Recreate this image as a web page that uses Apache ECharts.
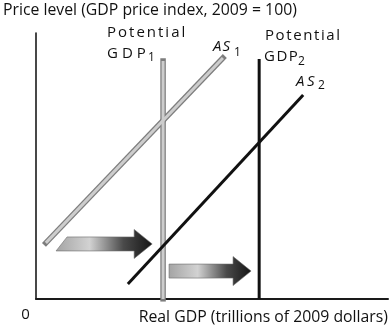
<!DOCTYPE html>
<html>
<head>
<meta charset="utf-8">
<script src="https://cdn.jsdelivr.net/npm/echarts@6/dist/echarts.min.js"></script>
<style>
  html, body { margin: 0; padding: 0; background: #fff; }
  #chart { width: 391px; height: 330px; }
</style>
</head>
<body>
<div id="chart"></div>
<script>
// Aggregate supply shift: potential GDP and AS curves move right.
// Axis units are relative (0–100); the chart carries no tick values.
const potentialGdp1 = [[36.1, 0], [36.1, 89.5]];
const potentialGdp2 = [[63.4, 0], [63.4, 90.2]];
const as1 = [[2.8, 21.1], [53.1, 90.6]];
const as2 = [[26.1, 5.6], [75.9, 76.7]];
// Shift arrows: [start x, tip x, y]
const shiftArrows = [[5.7, 33.0, 20.7], [37.8, 61.1, 10.5]];

const xTitle = 'Real GDP (trillions of 2009 dollars)';
const yTitle = 'Price level (GDP price index, 2009 = 100)';

// ---- styling ----
const FONT = '"Open Sans"';
const arrowTailSlant = [11, 0];

// Spread letters apart with fixed-width gap tokens
function tracked(str) {
  return str.split('').join('{g|\u00a0}');
}

function label(x, y, str, opts) {
  opts = opts || {};
  const gap = opts.gap || 0;
  const size = opts.size || 15;
  const style = {
    text: gap ? tracked(str) : str,
    fill: '#111',
    fontFamily: FONT,
    fontSize: size,
    fontStyle: opts.italic ? 'italic' : 'normal',
    textAlign: opts.align || 'left',
    textVerticalAlign: 'middle'
  };
  if (gap) {
    style.rich = { g: { width: gap, fontSize: size, fontFamily: FONT } };
  }
  return { type: 'text', x: x, y: y, silent: true, style: style };
}

function hollowLine(data, z) {
  return [
    { type: 'line', data: data, showSymbol: false, silent: true, z: z,
      lineStyle: { color: '#7d7d7d', width: 5.5, cap: 'square' } },
    { type: 'line', data: data, showSymbol: false, silent: true, z: z + 0.1,
      lineStyle: { color: '#cdcdcd', width: 3, cap: 'butt' } }
  ];
}

const chart = echarts.init(document.getElementById('chart'), null, { renderer: 'canvas' });

chart.setOption({
  animation: false,
  backgroundColor: '#fff',
  grid: { left: 36, top: 33, right: 3, bottom: 31, containLabel: false },
  xAxis: {
    type: 'value', min: 0, max: 100,
    axisLine: { show: true, onZero: false, lineStyle: { color: '#1a1a1a', width: 2 } },
    axisTick: { show: false }, axisLabel: { show: false }, splitLine: { show: false }
  },
  yAxis: {
    type: 'value', min: 0, max: 100,
    axisLine: { show: true, onZero: false, lineStyle: { color: '#1a1a1a', width: 1.6 } },
    axisTick: { show: false }, axisLabel: { show: false }, splitLine: { show: false }
  },
  series: [
    ...hollowLine(potentialGdp1, 2),
    ...hollowLine(as1, 2),
    { type: 'line', data: potentialGdp2, showSymbol: false, silent: true, z: 3,
      lineStyle: { color: '#111', width: 3, cap: 'butt' } },
    { type: 'line', data: as2, showSymbol: false, silent: true, z: 4,
      lineStyle: { color: '#111', width: 3, cap: 'butt' } },
    {
      type: 'custom', z: 5, silent: true,
      data: shiftArrows,
      renderItem: function (params, api) {
        const y = api.value(2);
        const s = api.coord([api.value(0), y]);
        const t = api.coord([api.value(1), y]);
        const b = 7, h = 14.5, L = 18;
        const slant = arrowTailSlant[params.dataIndex] || 0;
        const cy = s[1];
        const pts = [
          [s[0], cy + b], [s[0] + slant, cy - b], [t[0] - L, cy - b],
          [t[0] - L, cy - h], [t[0], cy], [t[0] - L, cy + h], [t[0] - L, cy + b]
        ];
        return {
          type: 'polygon',
          shape: { points: pts },
          style: {
            fill: new echarts.graphic.LinearGradient(0, 0, 1, 0, [
              { offset: 0, color: '#a4a4a4' },
              { offset: 0.35, color: '#d2d2d2' },
              { offset: 0.7, color: '#4a4a4a' },
              { offset: 1, color: '#141414' }
            ]),
            stroke: '#6a6a6a', lineWidth: 0.6
          }
        };
      }
    }
  ],
  graphic: [
    label(3, 10, yTitle, { size: 15.8 }),
    label(388, 317, xTitle, { size: 15.8, align: 'right' }),
    label(25.5, 315, '0', { size: 15, align: 'center' }),
    label(107, 32.5, 'Potential', { gap: 2 }),
    label(107, 53.5, 'GDP', { gap: 4 }),
    label(148, 58, '1', { size: 12 }),
    label(265, 35.5, 'Potential', { gap: 1.6 }),
    label(264, 57, 'GDP', { gap: 1.5 }),
    label(298, 61.5, '2', { size: 12 }),
    label(213, 47, 'AS', { gap: 1, italic: true }),
    label(234, 53, '1', { size: 12 }),
    label(296, 82, 'AS', { gap: 2.5, italic: true }),
    label(318, 86, '2', { size: 12 })
  ]
});
</script>
</body>
</html>
